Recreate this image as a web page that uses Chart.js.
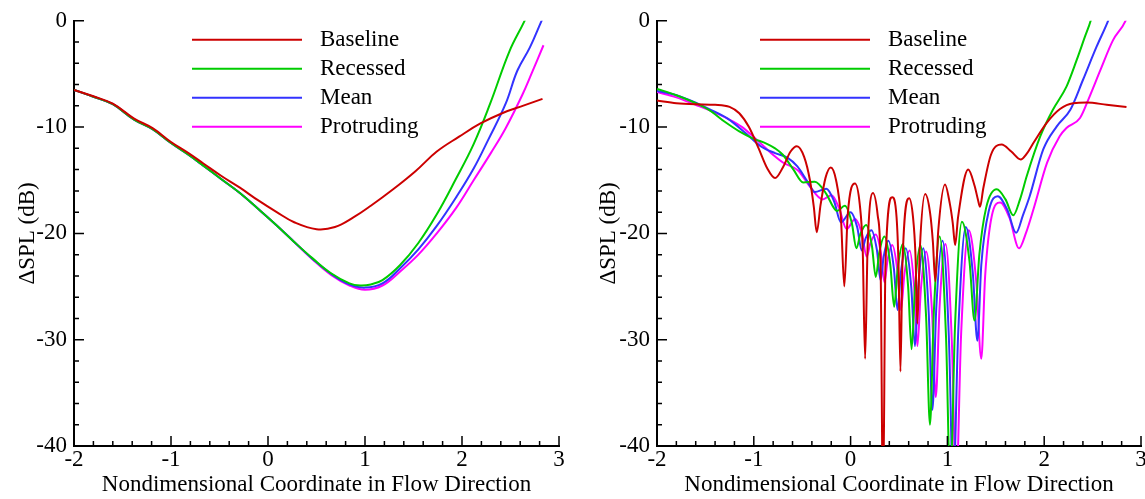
<!DOCTYPE html>
<html>
<head>
<meta charset="utf-8">
<script src="https://cdn.jsdelivr.net/npm/chart.js@4.4.0/dist/chart.umd.min.js"></script>
<style>
body{margin:0;background:#fff;width:1145px;height:499px;overflow:hidden;position:relative}
canvas{position:absolute;top:0}
#left{left:0}
#right{left:575px}
</style>
</head>
<body>
<canvas id="left" width="575" height="499"></canvas>
<canvas id="right" width="570" height="499"></canvas>
<script>
// series names and colours
var seriesNames = ['Baseline', 'Recessed', 'Mean', 'Protruding'];
var seriesColors = ['#cc0000', '#00cc00', '#3333ff', '#ff00ff'];
var xTicks = [-2, -1, 0, 1, 2, 3];
var yTicks = [-40, -30, -20, -10, 0];

// left panel, [x, dSPL]
var leftBaseline = [[-2.0,-6.5],[-1.8,-7.1],[-1.6,-7.8],[-1.38,-9.2],[-1.19,-10.1],[-1.0,-11.4],[-0.82,-12.45],[-0.67,-13.4],[-0.48,-14.6],[-0.29,-15.7],[-0.10,-16.9],[0.09,-18.0],[0.27,-18.95],[0.5,-19.6],[0.69,-19.4],[0.88,-18.5],[1.06,-17.4],[1.29,-15.85],[1.52,-14.15],[1.74,-12.3],[1.97,-10.9],[2.19,-9.66],[2.42,-8.67],[2.64,-7.96],[2.83,-7.35]];
var leftRecessed = [[-2.0,-6.5],[-1.8,-7.15],[-1.6,-7.85],[-1.38,-9.3],[-1.19,-10.2],[-1.0,-11.5],[-0.82,-12.6],[-0.67,-13.6],[-0.48,-14.9],[-0.29,-16.2],[-0.10,-17.7],[0.09,-19.25],[0.27,-20.8],[0.46,-22.35],[0.65,-23.75],[0.84,-24.7],[0.95,-24.9],[1.06,-24.8],[1.18,-24.4],[1.36,-23.0],[1.55,-20.9],[1.74,-18.2],[1.93,-15.0],[2.12,-11.6],[2.29,-7.8],[2.49,-2.85],[2.64,-0.1],[2.67,0.6]];
var leftMean = [[-2.0,-6.5],[-1.8,-7.15],[-1.6,-7.85],[-1.38,-9.3],[-1.19,-10.2],[-1.0,-11.5],[-0.82,-12.6],[-0.67,-13.6],[-0.48,-14.9],[-0.29,-16.2],[-0.10,-17.7],[0.09,-19.25],[0.27,-20.8],[0.46,-22.4],[0.65,-23.8],[0.84,-24.8],[1.0,-25.1],[1.18,-24.7],[1.36,-23.3],[1.55,-21.5],[1.74,-19.3],[1.94,-16.6],[2.12,-13.9],[2.27,-11.2],[2.45,-7.8],[2.57,-4.7],[2.70,-2.5],[2.82,0],[2.85,0.6]];
var leftProtruding = [[-2.0,-6.5],[-1.8,-7.15],[-1.6,-7.85],[-1.38,-9.3],[-1.19,-10.2],[-1.0,-11.5],[-0.82,-12.6],[-0.67,-13.6],[-0.48,-14.9],[-0.29,-16.2],[-0.10,-17.7],[0.09,-19.25],[0.27,-20.8],[0.46,-22.45],[0.65,-23.9],[0.84,-24.9],[1.0,-25.3],[1.18,-24.9],[1.36,-23.6],[1.55,-22.0],[1.74,-20.0],[1.94,-17.6],[2.12,-15.0],[2.30,-12.4],[2.45,-10.1],[2.62,-7.0],[2.72,-4.9],[2.84,-2.3]];

// right panel, [x, dSPL]
var rightBaseline = [[-2.0,-7.5],[-1.8,-7.75],[-1.6,-7.85],[-1.4,-7.9],[-1.25,-8.1],[-1.15,-8.7],[-1.05,-10.0],[-0.95,-12.0],[-0.86,-13.9],[-0.78,-14.8],[-0.70,-13.8],[-0.62,-12.3],[-0.555,-11.8],[-0.48,-12.8],[-0.42,-15.0],[-0.38,-17.5],[-0.35,-19.9],[-0.31,-17.3],[-0.26,-14.8],[-0.205,-13.8],[-0.15,-15.0],[-0.10,-18.5],[-0.065,-25.0],[-0.03,-18.3],[0.045,-15.3],[0.095,-17.3],[0.125,-21.5],[0.15,-31.8],[0.175,-21.5],[0.23,-16.2],[0.28,-18.3],[0.31,-23],[0.335,-46],[0.36,-23],[0.43,-16.6],[0.475,-18.5],[0.495,-23],[0.515,-33.0],[0.535,-23],[0.605,-16.7],[0.645,-18.5],[0.67,-22],[0.69,-28.5],[0.715,-21.5],[0.77,-16.3],[0.82,-18],[0.85,-20.8],[0.875,-24.5],[0.905,-19.8],[0.975,-15.4],[1.025,-17.2],[1.055,-19],[1.08,-21.1],[1.11,-18.5],[1.215,-14.0],[1.28,-15.5],[1.315,-16.8],[1.337,-17.5],[1.37,-15.8],[1.45,-12.6],[1.56,-11.64],[1.66,-12.3],[1.757,-13.04],[1.82,-12.5],[1.888,-11.5],[2.026,-9.6],[2.163,-8.3],[2.30,-7.75],[2.44,-7.69],[2.645,-7.9],[2.85,-8.12]];
var rightRecessed = [[-2.0,-6.4],[-1.8,-7.0],[-1.6,-7.75],[-1.46,-8.4],[-1.3,-9.5],[-1.15,-10.4],[-1.0,-11.1],[-0.87,-11.55],[-0.78,-12.0],[-0.70,-12.6],[-0.59,-14.0],[-0.49,-15.2],[-0.37,-15.15],[-0.25,-16.3],[-0.18,-17.5],[-0.14,-17.9],[-0.06,-17.4],[0.012,-19.0],[0.06,-21.4],[0.10,-20.1],[0.16,-19.2],[0.22,-21.16],[0.26,-24.1],[0.296,-21.82],[0.35,-20.3],[0.41,-22.94],[0.45,-26.9],[0.486,-23.36],[0.54,-21.0],[0.594,-24.96],[0.63,-30.9],[0.666,-25.02],[0.72,-21.1],[0.78,-27.86],[0.82,-38.0],[0.86,-27.38],[0.92,-20.3],[0.986,-29.8],[1.03,-44],[1.078,-28.9],[1.15,-18.9],[1.228,-22.6],[1.28,-28.2],[1.33,-22.0],[1.40,-17.6],[1.51,-15.85],[1.60,-16.8],[1.68,-18.3],[1.75,-16.8],[1.82,-14.6],[1.96,-10.86],[2.09,-8.37],[2.23,-6.19],[2.335,-3.7],[2.42,-1.52],[2.48,0],[2.52,1.5]];
var rightMean = [[-2.0,-6.6],[-1.8,-7.0],[-1.6,-7.7],[-1.46,-8.3],[-1.27,-9.2],[-1.08,-10.6],[-0.93,-11.8],[-0.78,-12.45],[-0.65,-12.9],[-0.55,-13.7],[-0.44,-15.2],[-0.37,-16.1],[-0.25,-15.8],[-0.17,-17.0],[-0.10,-18.95],[0.0,-18.0],[0.069,-19.44],[0.115,-21.6],[0.155,-20.46],[0.215,-19.7],[0.272,-21.58],[0.31,-24.4],[0.342,-22.18],[0.39,-20.7],[0.447,-23.3],[0.485,-27.2],[0.519,-23.72],[0.57,-21.4],[0.627,-25.08],[0.665,-30.6],[0.699,-25.08],[0.75,-21.4],[0.807,-27.48],[0.845,-36.6],[0.885,-27.06],[0.95,-20.7],[1.016,-30.0],[1.06,-44],[1.112,-29.24],[1.19,-19.4],[1.262,-23.68],[1.31,-30.1],[1.35,-23.0],[1.43,-17.8],[1.52,-16.5],[1.62,-17.8],[1.71,-19.95],[1.78,-18.3],[1.85,-16.5],[1.99,-12.1],[2.13,-9.93],[2.27,-8.37],[2.40,-5.57],[2.54,-2.46],[2.66,0],[2.70,1.0]];
var rightProtruding = [[-2.0,-6.7],[-1.8,-7.2],[-1.6,-7.9],[-1.46,-8.4],[-1.27,-9.2],[-1.12,-10.0],[-0.97,-11.2],[-0.82,-12.45],[-0.695,-13.35],[-0.54,-14.1],[-0.42,-15.6],[-0.29,-16.8],[-0.196,-16.4],[-0.12,-17.6],[-0.04,-19.6],[0.045,-18.65],[0.118,-20.07],[0.166,-22.2],[0.204,-20.94],[0.26,-20.1],[0.314,-21.9],[0.35,-24.6],[0.382,-22.5],[0.43,-21.1],[0.484,-23.54],[0.52,-27.2],[0.556,-23.84],[0.61,-21.6],[0.658,-25.2],[0.69,-30.6],[0.726,-25.26],[0.78,-21.7],[0.84,-27.18],[0.88,-35.4],[0.92,-26.76],[0.98,-21.0],[1.046,-30.2],[1.09,-44],[1.142,-29.42],[1.22,-19.7],[1.298,-24.54],[1.35,-31.8],[1.39,-24.0],[1.46,-18.3],[1.545,-17.1],[1.64,-18.5],[1.74,-21.4],[1.81,-20],[1.89,-17.7],[2.03,-13.35],[2.16,-10.86],[2.23,-10.08],[2.37,-9.15],[2.47,-7.1],[2.58,-4.64],[2.71,-1.84],[2.84,0],[2.87,0.8]];

var serif = 'Liberation Serif, Times New Roman, serif';
var fnt = {family: serif, size: 23};

function toPoints(arr) {
	return arr.map(function(p) { return {x: p[0], y: p[1]}; });
}

function makeData(series, smooth) {
	return {
		datasets: series.map(function(s, i) {
			var ds = {
				label: seriesNames[i],
				data: toPoints(s),
				borderColor: seriesColors[i],
				backgroundColor: seriesColors[i],
				borderWidth: 2,
				pointRadius: 0,
				fill: false
			};
			if (smooth) {
				ds.tension = 0.4;
			} else {
				ds.cubicInterpolationMode = 'monotone';
			}
			return ds;
		})
	};
}

// tecplot style ticks pointing into the plot
var innerTicks = {
	id: 'innerTicks',
	afterDraw: function(chart) {
		var ctx = chart.ctx, a = chart.chartArea;
		var xs = chart.scales.x, ys = chart.scales.y;
		ctx.save();
		ctx.strokeStyle = '#000';
		ctx.lineWidth = 1.5;
		ctx.beginPath();
		for (var i = 0; i <= 25; i++) {
			var px = xs.getPixelForValue(-2 + i * 0.2);
			var len = (i % 5 === 0) ? 10 : 5;
			ctx.moveTo(px, a.bottom);
			ctx.lineTo(px, a.bottom - len);
		}
		for (var j = 0; j <= 20; j++) {
			var py = ys.getPixelForValue(-40 + j * 2);
			var len2 = (j % 5 === 0) ? 10 : 5;
			ctx.moveTo(a.left, py);
			ctx.lineTo(a.left + len2, py);
		}
		ctx.stroke();
		ctx.restore();
	}
};

// legend drawn inside the plot
var innerLegend = {
	id: 'innerLegend',
	afterDatasetsDraw: function(chart, args, opts) {
		var ctx = chart.ctx, a = chart.chartArea;
		ctx.save();
		ctx.font = '23px ' + serif;
		ctx.textBaseline = 'middle';
		ctx.textAlign = 'left';
		chart.data.datasets.forEach(function(ds, i) {
			var y = a.top + 19 + i * 29;
			ctx.strokeStyle = ds.borderColor;
			ctx.lineWidth = 2;
			ctx.beginPath();
			ctx.moveTo(a.left + opts.x0, y);
			ctx.lineTo(a.left + opts.x1, y);
			ctx.stroke();
			ctx.fillStyle = '#000';
			ctx.fillText(ds.label, a.left + opts.tx, y);
		});
		ctx.restore();
	}
};

function makeOptions(padRight, yWidth, yTitlePad, leg) {
	return {
		responsive: false,
		animation: false,
		layout: {padding: {left: 0, right: padRight, top: 17, bottom: 0}},
		plugins: {
			legend: {display: false},
			tooltip: {enabled: false},
			innerLegend: leg
		},
		scales: {
			x: {
				type: 'linear',
				min: -2,
				max: 3,
				afterBuildTicks: function(s) { s.ticks = xTicks.map(function(v) { return {value: v}; }); },
				ticks: {color: '#000', font: fnt, padding: 0, maxRotation: 0},
				grid: {drawOnChartArea: false, drawTicks: false},
				border: {color: '#000', width: 2},
				title: {display: true, text: 'Nondimensional Coordinate in Flow Direction', color: '#000', font: fnt, padding: {top: 0, bottom: 0}},
				afterFit: function(s) { s.height = 53; s.paddingLeft = 0; s.paddingRight = 0; }
			},
			y: {
				type: 'linear',
				min: -40,
				max: 0,
				afterBuildTicks: function(s) { s.ticks = yTicks.map(function(v) { return {value: v}; }); },
				ticks: {color: '#000', font: fnt, padding: 7},
				grid: {drawOnChartArea: false, drawTicks: false},
				border: {color: '#000', width: 2},
				title: {display: true, text: '\u0394SPL (dB)', color: '#000', font: fnt, padding: {top: yTitlePad, bottom: 0}},
				afterFit: function(s) { s.width = yWidth; }
			}
		}
	};
}

var leftChart = new Chart(document.getElementById('left'), {
	type: 'line',
	data: makeData([leftBaseline, leftRecessed, leftMean, leftProtruding], true),
	options: makeOptions(16, 74, 14, {x0: 118, x1: 228, tx: 246}),
	plugins: [innerTicks, innerLegend]
});

var rightChart = new Chart(document.getElementById('right'), {
	type: 'line',
	data: makeData([rightBaseline, rightRecessed, rightMean, rightProtruding], false),
	options: makeOptions(4, 82, 20, {x0: 103, x1: 213, tx: 231}),
	plugins: [innerTicks, innerLegend]
});
</script>
</body>
</html>
